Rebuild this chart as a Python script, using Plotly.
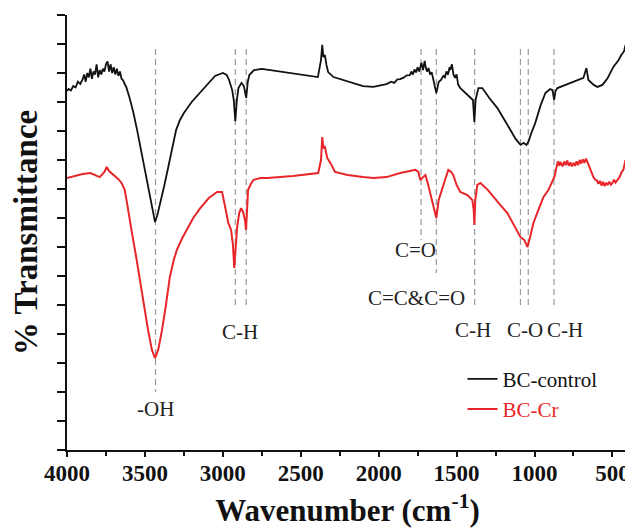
import plotly.graph_objects as go

# ---------------- data (wavenumber cm^-1, transmittance in arbitrary tick units) ----------------
bc_control_wn = [4000, 3990, 3975, 3960, 3945, 3930, 3915, 3900, 3890, 3880, 3870, 3860, 3850, 3840, 3830,
                 3820, 3810, 3800, 3790, 3780, 3770, 3760, 3750, 3740, 3730, 3720, 3710, 3700, 3690, 3680,
                 3670, 3660, 3650, 3640, 3630, 3620, 3600, 3575, 3550, 3525, 3500, 3475, 3450, 3435, 3420,
                 3400, 3375, 3350, 3325, 3300, 3275, 3250, 3200, 3150, 3100, 3050, 3000, 2975, 2960, 2940,
                 2930, 2920, 2910, 2900, 2880, 2865, 2850, 2840, 2830, 2800, 2750, 2600, 2450, 2390, 2370,
                 2362, 2355, 2345, 2335, 2324, 2290, 2200, 2100, 2035, 1990, 1950, 1920, 1900, 1880, 1862,
                 1840, 1820, 1800, 1790, 1780, 1770, 1760, 1750, 1740, 1733, 1725, 1715, 1705, 1700, 1690,
                 1680, 1670, 1660, 1650, 1640, 1630, 1620, 1615, 1600, 1585, 1575, 1565, 1555, 1545, 1540,
                 1530, 1520, 1510, 1500, 1490, 1476, 1460, 1440, 1412, 1395, 1386, 1378, 1360, 1335, 1290,
                 1238, 1200, 1155, 1120, 1090, 1070, 1052, 1040, 1020, 995, 960, 930, 900, 885, 874, 865,
                 853, 800, 770, 720, 686, 667, 654, 620, 596, 564, 530, 494, 460, 445, 436, 425, 416, 410, 404]
bc_control_t = [12.38, 12.45, 12.40, 12.55, 12.50, 12.70, 12.62, 12.78, 12.95, 12.70, 13.00, 12.85, 13.15, 12.80, 13.05,
                12.95, 13.30, 12.85, 13.10, 12.95, 13.15, 13.05, 13.30, 13.40, 13.05, 13.30, 13.00, 13.20, 12.95, 13.15,
                12.90, 13.05, 12.80, 12.75, 12.62, 12.52, 12.17, 11.66, 11.03, 10.34, 9.66, 8.93, 8.21, 7.86, 8.10,
                8.52, 9.14, 9.76, 10.41, 11.03, 11.38, 11.62, 12.00, 12.31, 12.59, 12.90, 13.00, 12.93, 12.76, 12.41,
                12.07, 11.34, 12.07, 12.48, 12.66, 12.55, 12.14, 12.69, 12.93, 13.10, 13.14, 13.03, 12.93, 12.86, 13.45,
                13.97, 13.55, 13.62, 13.28, 13.03, 12.86, 12.72, 12.55, 12.52, 12.57, 12.62, 12.70, 12.66, 12.78, 12.79,
                12.84, 12.92, 12.93, 13.05, 12.95, 13.12, 13.02, 13.20, 13.05, 13.17, 13.35, 13.10, 13.42, 13.25, 13.05,
                13.17, 12.95, 13.03, 12.80, 12.48, 12.31, 12.55, 12.69, 12.76, 12.90, 12.85, 13.05, 12.95, 13.20, 13.10,
                13.30, 12.95, 12.83, 12.95, 12.60, 12.48, 12.40, 12.31, 12.17, 12.07, 11.31, 12.07, 12.48, 12.48, 12.14,
                11.79, 11.45, 11.03, 10.72, 10.52, 10.59, 10.52, 10.62, 10.93, 11.28, 11.90, 12.31, 12.45, 12.41, 12.07, 12.38,
                12.48, 12.59, 12.66, 12.76, 12.83, 13.17, 12.76, 12.59, 12.52, 12.59, 12.83, 13.21, 13.45, 13.60, 13.69, 13.75, 13.97, 13.70, 13.62]

bc_cr_wn = [4000, 3950, 3900, 3850, 3820, 3790, 3760, 3745, 3730, 3700, 3670, 3650, 3630, 3615, 3600,
            3583, 3555, 3530, 3505, 3480, 3455, 3435, 3415, 3390, 3365, 3340, 3315, 3295, 3260, 3230,
            3190, 3145, 3090, 3037, 3005, 2985, 2965, 2947, 2935, 2927, 2918, 2908, 2895, 2883, 2870,
            2858, 2851, 2844, 2838, 2820, 2805, 2760, 2715, 2550, 2388, 2370, 2362, 2355, 2345, 2330,
            2310, 2280, 2200, 2100, 2035, 1950, 1862, 1800, 1765, 1745, 1733, 1715, 1700, 1682, 1660,
            1640, 1630, 1615, 1592, 1570, 1553, 1535, 1521, 1500, 1476, 1431, 1399, 1390, 1386, 1380,
            1367, 1347, 1300, 1264, 1220, 1174, 1130, 1090, 1065, 1045, 1025, 1007, 975, 943, 910,
            885, 870, 860, 850, 840, 834, 820, 810, 800, 790, 780, 770, 760, 750, 740, 730, 720, 710, 700,
            690, 680, 670, 660, 650, 640, 622, 610, 600, 590, 580, 570, 560, 550, 540, 532, 520, 510, 500,
            490, 480, 468, 455, 440, 430, 416]
bc_cr_t = [9.38, 9.45, 9.52, 9.55, 9.48, 9.41, 9.59, 9.76, 9.62, 9.48, 9.34, 9.21, 8.97, 8.52, 8.00,
           7.48, 6.62, 5.76, 4.93, 4.14, 3.45, 3.17, 3.45, 4.14, 5.00, 5.97, 6.55, 6.90, 7.31, 7.59,
           8.00, 8.34, 8.69, 8.90, 8.90, 8.38, 7.83, 7.59, 7.07, 6.28, 7.07, 7.69, 8.17, 8.34, 8.21,
           7.93, 7.59, 8.45, 8.97, 9.17, 9.31, 9.38, 9.38, 9.45, 9.55, 10.00, 10.79, 10.41, 10.45, 10.07,
           9.90, 9.59, 9.48, 9.41, 9.38, 9.41, 9.55, 9.62, 9.66, 9.59, 9.31, 9.41, 9.48, 9.14, 8.69,
           8.28, 8.00, 8.62, 8.97, 9.38, 9.66, 9.59, 9.48, 9.14, 8.90, 8.79, 8.62, 8.28, 7.76, 8.62,
           9.14, 9.21, 8.97, 8.72, 8.45, 8.17, 7.76, 7.34, 7.24, 7.00, 7.41, 7.83, 8.28, 8.72, 8.97,
           9.24, 9.45, 9.72, 9.95, 9.80, 9.93, 9.78, 9.95, 9.82, 9.98, 9.80, 9.92, 9.78, 9.90, 9.80, 9.95, 9.82, 10.00, 9.88,
           10.02, 9.90, 10.05, 9.93, 9.78, 9.66, 9.41, 9.32, 9.30, 9.18, 9.28, 9.12, 9.25, 9.10, 9.22, 9.14, 9.25, 9.15, 9.21,
           9.32, 9.22, 9.31, 9.40, 9.59, 9.65, 10.00]

band_wn = [3432, 2920, 2850, 1728, 1630, 1384, 1090, 1040, 875]
band_top = [13.83, 13.83, 13.83, 13.83, 13.83, 13.83, 13.83, 13.83, 13.83]
band_bottom = [2.0, 4.93, 4.93, 7.24, 6.10, 5.0, 4.93, 4.93, 4.93]

label_text = ["-OH", "C-H", "C=O", "C=C&C=O", "C-H", "C-O", "C-H"]
label_wn = [3432, 2889, 1765, 1759, 1393, 1059, 802]
label_t = [1.41, 4.07, 6.88, 5.24, 4.14, 4.14, 4.14]

y_ticks = list(range(0, 16))
x_ticks = [4000, 3500, 3000, 2500, 2000, 1500, 1000, 500]
x_minor_ticks = [3750, 3250, 2750, 2250, 1750, 1250, 750]

BLACK = "#111111"
RED = "#e8262a"
SERIF = "Liberation Serif"

fig = go.Figure()

for wn, top, bot in zip(band_wn, band_top, band_bottom):
    fig.add_trace(go.Scatter(x=[wn, wn], y=[top, bot], mode="lines",
                             line=dict(color="#9a9a9a", width=1.2, dash="6px,4px"),
                             showlegend=False, hoverinfo="skip"))

fig.add_trace(go.Scatter(x=bc_control_wn, y=bc_control_t, mode="lines", name="BC-control",
                         line=dict(color=BLACK, width=1.8)))
fig.add_trace(go.Scatter(x=bc_cr_wn, y=bc_cr_t, mode="lines",
                         name="<span style='color:%s'>BC-Cr</span>" % RED,
                         line=dict(color=RED, width=2)))

for txt, wn, t in zip(label_text, label_wn, label_t):
    fig.add_annotation(x=wn, y=t, text=txt, showarrow=False,
                       font=dict(family=SERIF, size=21, color="#222222"))

# page body has an 8px default margin, so the figure is sized 8px smaller than the window
fig.update_layout(
    width=625, height=523,
    margin=dict(l=59, r=5, t=7, b=81, autoexpand=False),
    paper_bgcolor="white", plot_bgcolor="white",
    font=dict(family=SERIF, color="#111111"),
    showlegend=True,
    legend=dict(x=0.705, y=0.21, xanchor="left", yanchor="top",
                font=dict(family=SERIF, size=21, color=BLACK),
                bgcolor="rgba(0,0,0,0)", tracegroupgap=0),
)

fig.update_xaxes(
    range=[4000, 400], tickvals=x_ticks, ticks="outside", ticklen=5, tickwidth=1.5,
    tickcolor=BLACK, showline=True, linecolor=BLACK, linewidth=2, showgrid=False, zeroline=False,
    automargin=False, ticklabelstandoff=-4,
    tickfont=dict(family=SERIF, size=23, color=BLACK, weight="bold"),
    minor=dict(tickvals=x_minor_ticks, ticks="outside", ticklen=4,
               tickwidth=1.5, tickcolor=BLACK, showgrid=False),
    title=dict(text="Wavenumber (cm<sup>-1</sup>)", standoff=15,
               font=dict(family=SERIF, size=31, color=BLACK, weight="bold")),
)
fig.update_yaxes(
    range=[0, 15], tickvals=y_ticks, showticklabels=False, ticks="outside", ticklen=8, tickwidth=1.5,
    tickcolor=BLACK, showline=True, linecolor=BLACK, linewidth=2, showgrid=False, zeroline=False,
    automargin=True,
    title=dict(text="% Transmittance", standoff=14,
               font=dict(family=SERIF, size=33, color=BLACK, weight="bold")),
)

fig.write_html("out.html")
